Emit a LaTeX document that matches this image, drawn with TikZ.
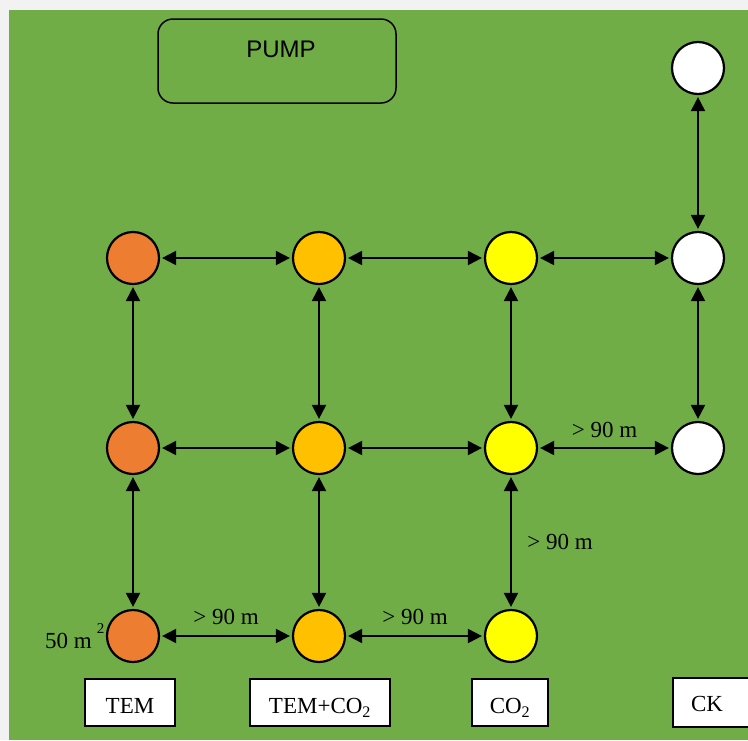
\documentclass[tikz,border=0pt]{standalone}
\usepackage{fontspec}
\setmainfont{Liberation Serif}
\newfontfamily\pumpfont{Liberation Sans}
\usetikzlibrary{arrows.meta}

\definecolor{fieldgreen}{HTML}{70AD47}
\definecolor{margingray}{HTML}{F2F2F2}
\definecolor{temorange}{HTML}{ED7D31}
\definecolor{mixgold}{HTML}{FFC000}
\definecolor{coyellow}{HTML}{FFFF00}

\tikzset{
  plotcirc/.style={circle, draw, line width=2.2pt, minimum size=52pt, inner sep=0pt},
  link/.style={{Triangle[length=14pt,width=14pt]}-{Triangle[length=14pt,width=14pt]},
               line width=2pt, shorten <=2pt, shorten >=2pt},
  labelbox/.style={draw, fill=white, line width=1.5pt, minimum height=47pt, inner sep=0pt,
                   text height=22pt, text depth=0pt},
  dist/.style={font=\fontsize{23}{25}\selectfont},
}

\begin{document}
\begin{tikzpicture}[x=1pt, y=-1pt]
    \pgfmathsetmacro{\colA}{133}
    \pgfmathsetmacro{\colB}{319}
    \pgfmathsetmacro{\colC}{511}
    \pgfmathsetmacro{\colD}{698}
\useasboundingbox (0,0) rectangle (748,740);
\fill[margingray] (0,0) rectangle (748,740);
\fill[fieldgreen] (9,10) rectangle (748,740);

    % pump box
    \draw[line width=1.5pt, rounded corners=15pt] (158,19) rectangle (396,103);
    \node (pump) [font=\pumpfont\fontsize{24}{26}\selectfont] at (281,49) {PUMP};

    % plots
    \node (ck0) [plotcirc, fill=white] at (\colD,68) {};
    \foreach \r/\y in {1/258, 2/448} {
        \node (tem\r) [plotcirc, fill=temorange] at (\colA,\y) {};
        \node (mix\r) [plotcirc, fill=mixgold] at (\colB,\y) {};
        \node (co\r) [plotcirc, fill=coyellow] at (\colC,\y) {};
        \node (ck\r) [plotcirc, fill=white] at (\colD,\y) {};
    }
    \node (tem3) [plotcirc, fill=temorange] at (\colA,636) {};
    \node (mix3) [plotcirc, fill=mixgold] at (\colB,636) {};
    \node (co3) [plotcirc, fill=coyellow] at (\colC,636) {};

    % links between plots
    \draw[link] (ck0) -- (ck1);
    \foreach \r in {1,2} {
        \draw[link] (tem\r) -- (mix\r);
        \draw[link] (mix\r) -- (co\r);
    }
    \draw[link] (co1) -- (ck1);
    \draw[link] (co2) -- node[dist, above=6pt] {> 90 m} (ck2);
    \foreach \c in {tem,mix,co,ck} \draw[link] (\c1) -- (\c2);
    \draw[link] (tem2) -- (tem3);
    \draw[link] (mix2) -- (mix3);
    \draw[link] (co2) -- node[dist, right=12pt] {> 90 m} (co3);
    \draw[link] (tem3) -- node[dist, above=7pt] {> 90 m} (mix3);
    \draw[link] (mix3) -- node[dist, above=7pt] {> 90 m} (co3);

    % plot area
    \node (area) [dist, anchor=east] at ([xshift=2pt]tem3.west)
        {50 m\hspace{5pt}\raisebox{15pt}{\fontsize{15}{15}\selectfont 2}};

    % treatment labels
    \node (temlab) [labelbox, dist, minimum width=90pt] at (130,702.5) {TEM};
    \node (mixlab) [labelbox, dist, minimum width=140pt] at (320,702.5) {TEM+CO\textsubscript{2}};
    \node (colab) [labelbox, dist, minimum width=76pt] at (510,702.5) {CO\textsubscript{2}};
    \draw[labelbox] (673,678) rectangle (770,727);
    \node (cklab) [dist] at (707,704) {CK};

\end{tikzpicture}
\end{document}
